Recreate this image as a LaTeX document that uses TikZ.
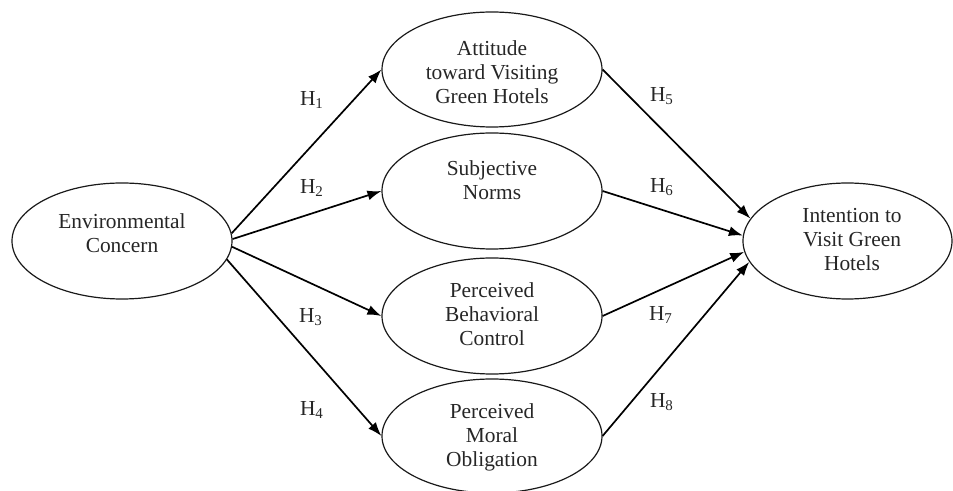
\documentclass[tikz,border=0pt]{standalone}
\usepackage{fontspec}
\setmainfont{Liberation Serif}
\usetikzlibrary{shapes.geometric,arrows.meta}
\begin{document}
\begin{tikzpicture}[x=0.5pt,y=-0.5pt,
  construct/.style={draw=black!90,line width=0.6pt,ellipse,inner sep=0pt},
  lbl/.style={align=center,inner sep=0pt,font=\fontsize{10.7}{12}\selectfont,text=black!85},
  hyp/.style={inner sep=0pt,font=\fontsize{10.7}{12}\selectfont,text=black!85},
  path/.style={line width=0.85pt,-{Latex[length=7pt,width=5pt]}}]
\useasboundingbox (0,0) rectangle (953,491);
% ellipses
\node[construct,minimum width=110pt,minimum height=58pt] (env) at (122,241) {};
\node[construct,minimum width=110pt,minimum height=57.5pt] (att) at (492,69.5) {};
\node[construct,minimum width=110pt,minimum height=58pt] (sn) at (492,191) {};
\node[construct,minimum width=110pt,minimum height=58pt] (pbc) at (492,316) {};
\node[construct,minimum width=110pt,minimum height=57pt] (pmo) at (492,436) {};
\node[construct,minimum width=104.5pt,minimum height=58pt] (int) at (847.5,241) {};
% texts
\node[lbl] (envT) at (122,233) {Environmental\\Concern};
\node[lbl] (attT) at (492,72) {Attitude\\toward Visiting\\Green Hotels};
\node[lbl] (snT) at (492,180) {Subjective\\Norms};
\node[lbl] (pbcT) at (492,314) {Perceived\\Behavioral\\Control};
\node[lbl] (pmoT) at (492,437) {Perceived\\Moral\\Obligation};
\node[lbl] (intT) at (852,240) {Intention to\\Visit Green\\Hotels};
% connectors
\draw[path] (env.4.7) -- (att.west);
\draw[path] (env.1.5) -- (sn.west);
\draw[path] (env.-3.6) -- (pbc.west);
\draw[path] (env.-10.4) -- (pmo.west);
\draw[path] (att.east) -- (int.167.8);
\draw[path] (sn.east) -- (int.177.3);
\draw[path] (pbc.east) -- (int.186);
\draw[path] (pmo.east) -- (int.192.2);
% hypothesis labels
\node[hyp] (h1) at (312,100) {H\textsubscript{1}};
\node[hyp] (h2) at (312,188) {H\textsubscript{2}};
\node[hyp] (h3) at (311,317) {H\textsubscript{3}};
\node[hyp] (h4) at (312,410) {H\textsubscript{4}};
\node[hyp] (h5) at (662,96) {H\textsubscript{5}};
\node[hyp] (h6) at (662,187) {H\textsubscript{6}};
\node[hyp] (h7) at (661,315) {H\textsubscript{7}};
\node[hyp] (h8) at (662,402) {H\textsubscript{8}};
\end{tikzpicture}
\end{document}
